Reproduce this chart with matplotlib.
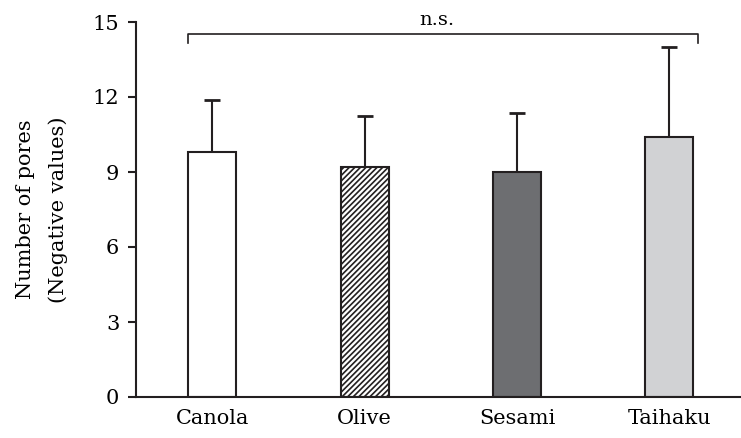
import matplotlib
matplotlib.use("Agg")
import matplotlib.pyplot as plt

# data
categories = ["Canola", "Olive", "Sesami", "Taihaku"]
means = [9.8, 9.2, 9.0, 10.4]
sd = [2.08, 2.04, 2.36, 3.6]
yticks = [0, 3, 6, 9, 12, 15]

plt.rcParams["font.family"] = ["DejaVu Serif"]
plt.rcParams["hatch.linewidth"] = 1.2

W, H = 741, 438
fig = plt.figure(figsize=(W / 100, H / 100), dpi=100)
ax = fig.add_axes([136 / W, 41 / H, (741 - 136) / W, 375 / H])

edge = "#231f20"
faces = ["white", "white", "#6d6e71", "#d1d2d4"]
hatches = [None, "//////", None, None]
x = list(range(len(categories)))

for i in x:
    ax.bar(i, means[i], width=0.315, color=faces[i], edgecolor=edge,
           linewidth=1.5, hatch=hatches[i], zorder=2)
ax.errorbar(x, means, yerr=[[0] * len(sd), sd], fmt="none", ecolor=edge,
            elinewidth=1.5, capsize=6, capthick=2, zorder=1)

ax.set_xlim(-0.5, 3.47)
ax.set_ylim(0, 15)
ax.set_yticks(yticks)
ax.set_xticks(x)
ax.set_xticklabels(categories)
ax.tick_params(axis="x", length=0, pad=9, labelsize=15)
ax.tick_params(axis="y", direction="out", length=6, width=1.5, pad=6,
               labelsize=15, color=edge)
for s in ["top", "right"]:
    ax.spines[s].set_visible(False)
for s in ["left", "bottom"]:
    ax.spines[s].set_linewidth(1.5)
    ax.spines[s].set_color(edge)

ax.set_ylabel("Number of pores\n(Negative values)", fontsize=15,
              linespacing=1.8)
ax.yaxis.set_label_coords(-0.113, 0.5)

# n.s. bracket
bx0, bx1 = -0.158, 3.19
ax.plot([bx0, bx0, bx1, bx1], [14.15, 14.52, 14.52, 14.15], color=edge,
        lw=1.2, clip_on=False)
ax.text((bx0 + bx1) / 2 - 0.04, 14.72, "n.s.", ha="center", va="bottom",
        fontsize=14, clip_on=False)

fig.savefig("out.png", dpi=100)
